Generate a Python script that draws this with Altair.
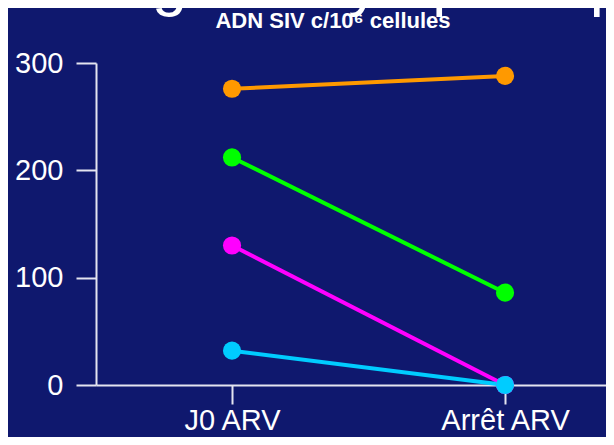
import altair as alt
import pandas as pd

categories = ["J0 ARV", "Arrêt ARV"]
series = ["S1", "S2", "S3", "S4"]
colors = ["#FF9900", "#00FF00", "#FF00FF", "#00CCFF"]
j0_values = [276, 212, 130, 32]
arret_values = [288, 86, 0, 0]
y_ticks = [0, 100, 200, 300]
chart_title = "ADN SIV c/10⁶ cellules"
slide_title = "Ganglions lymphatiques"

rows = []
for i, s in enumerate(series):
    rows.append({"serie": s, "temps": categories[0], "valeur": j0_values[i]})
    rows.append({"serie": s, "temps": categories[1], "valeur": arret_values[i]})
df = pd.DataFrame(rows)

axis_col = "#e4e4f0"
FONT = "Liberation Sans"

x_enc = alt.X(
    "temps:N",
    sort=categories,
    scale=alt.Scale(type="point", padding=0.434, align=0.574),
    axis=alt.Axis(
        title=None, labelAngle=0, labelFontSize=29, labelColor="white",
        labelFont=FONT, tickSize=19, tickWidth=2, tickColor=axis_col,
        domainColor=axis_col, domainWidth=2, labelPadding=2, grid=False,
    ),
)
y_enc = alt.Y(
    "valeur:Q",
    scale=alt.Scale(domain=[0, 300], nice=False, zero=True),
    axis=alt.Axis(
        title=None, values=y_ticks, labelFontSize=29, labelColor="white",
        labelFont=FONT, tickSize=20, tickWidth=2, tickColor=axis_col,
        domainColor=axis_col, domainWidth=2, labelPadding=13, grid=False,
    ),
)
color_enc = alt.Color(
    "serie:N",
    scale=alt.Scale(domain=series, range=colors),
    legend=None,
)

base = alt.Chart(df)
lines = base.mark_line(strokeWidth=4).encode(x=x_enc, y=y_enc, color=color_enc, detail="serie:N")
points = base.mark_circle(size=330, opacity=1).encode(x=x_enc, y=y_enc, color=color_enc)

title_layer = alt.Chart(pd.DataFrame({"t": [chart_title]})).mark_text(
    font=FONT, fontSize=22, fontWeight="bold", color="white", align="center", baseline="alphabetic"
).encode(text="t:N", x=alt.value(237), y=alt.value(-35))

slide_layer = alt.Chart(pd.DataFrame({"t": [slide_title]})).mark_text(
    font=FONT, fontSize=63, color="white", align="left", baseline="alphabetic"
).encode(text="t:N", x=alt.value(-63), y=alt.value(-59))

chart = alt.layer(lines, points, title_layer, slide_layer).properties(
    width=510,
    height=322,
    background="#0f186e",
    autosize=alt.AutoSizeParams(type="none"),
    padding={"left": 88, "top": 55, "right": 0, "bottom": 52},
).configure_view(stroke=None)

chart.save("out.html", embed_options={"renderer": "svg", "actions": False})
